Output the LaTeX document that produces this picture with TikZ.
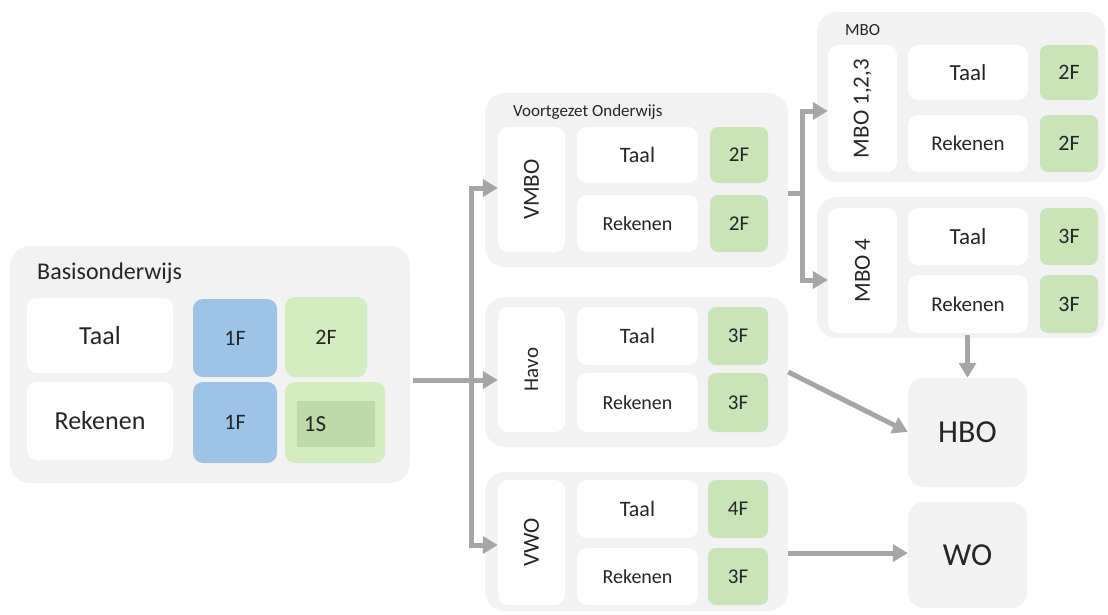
\documentclass[tikz,border=0pt]{standalone}
\usepackage{fontspec}
\setmainfont{Carlito}
\usetikzlibrary{arrows.meta}
\definecolor{bggrey}{HTML}{F2F2F2}
\definecolor{lblue}{HTML}{9DC3E6}
\definecolor{lgreen}{HTML}{D3ECC0}
\definecolor{vgreen}{HTML}{C9E4B6}
\definecolor{dgreen}{HTML}{BDDAAB}
\definecolor{arrgrey}{HTML}{A6A6A6}
\definecolor{txt}{HTML}{262626}
\newcommand{\fs}[1]{\fontsize{#1}{#1}\selectfont}
\tikzset{
  outerbox/.style={fill=bggrey, rounded corners=20pt, inner sep=0pt},
  whitebox/.style={fill=white, rounded corners=10pt, inner sep=0pt, text=txt},
  bluebox/.style={fill=lblue, rounded corners=10pt, inner sep=0pt, text=txt},
  greenbox/.style={fill=lgreen, rounded corners=10pt, inner sep=0pt, text=txt},
  vbox/.style={fill=vgreen, rounded corners=8pt, inner sep=0pt, text=txt},
  endbox/.style={fill=bggrey, rounded corners=16pt, inner sep=0pt, text=txt},
  arr/.style={draw=arrgrey, line width=5pt, -{Triangle[length=15pt,width=17pt]}},
  ln/.style={draw=arrgrey, line width=5pt},
}
\begin{document}
\begin{tikzpicture}[x=1pt,y=-1pt]
\useasboundingbox (0,0) rectangle (1108,614);
% ---------- Basisonderwijs ----------
\node[outerbox, minimum width=400pt, minimum height=237pt] (basis) at (210,364.5) {};
\node[anchor=west, text=txt, inner sep=0pt] (btitle) at (37,273) {\fs{24}Basisonderwijs};
\node[whitebox, minimum width=146pt, minimum height=75pt] (bt) at (100,335.5) {\fs{26}Taal};
\node[whitebox, minimum width=146pt, minimum height=78pt] (br) at (100,421) {\fs{26}Rekenen};
\node[bluebox, minimum width=84pt, minimum height=78pt] (b1) at (235,338) {\fs{22}1F};
\node[bluebox, minimum width=84pt, minimum height=81pt] (b2) at (235,422.5) {\fs{22}1F};
\node[greenbox, minimum width=82pt, minimum height=80pt] (b3) at (326,337) {\fs{22}2F};
\node[greenbox, minimum width=100pt, minimum height=81pt] (b4) at (335,422.5) {};
\node[fill=dgreen, minimum width=78pt, minimum height=46pt, inner sep=0pt] (b4in) at (336,424) {};
\node[text=txt, inner sep=0pt] (b4t) at (315,424) {\fs{23}1S};
% ---------- Voortgezet Onderwijs: VMBO ----------
\node[outerbox, minimum width=303pt, minimum height=174pt] (vo) at (636.5,180) {};
\node[anchor=west, text=txt, inner sep=0pt] (votitle) at (513,112) {\fs{17}Voortgezet Onderwijs};
\node[whitebox, minimum width=67pt, minimum height=125pt] (vl) at (531.5,189.5) {};
\node[text=txt, rotate=90] at (vl.center) {\fs{23}VMBO};
\node[whitebox, minimum width=121pt, minimum height=56pt] (vt) at (637.5,155) {\fs{22}Taal};
\node[whitebox, minimum width=121pt, minimum height=57pt] (vr) at (637.5,223.5) {\fs{20}Rekenen};
\node[vbox, minimum width=58pt, minimum height=56pt] (vg1) at (739,155) {\fs{21}2F};
\node[vbox, minimum width=58pt, minimum height=57pt] (vg2) at (739,223.5) {\fs{21}2F};
% ---------- Havo ----------
\node[outerbox, minimum width=303pt, minimum height=150pt] (ho) at (636.5,372) {};
\node[whitebox, minimum width=67pt, minimum height=125pt] (hl) at (531.5,369.5) {};
\node[text=txt, rotate=90] at (hl.center) {\fs{21}Havo};
\node[whitebox, minimum width=121pt, minimum height=58pt] (ht) at (637.5,336) {\fs{22}Taal};
\node[whitebox, minimum width=121pt, minimum height=59pt] (hr) at (637.5,402.5) {\fs{20}Rekenen};
\node[vbox, minimum width=60pt, minimum height=58pt] (hg1) at (738,336) {\fs{21}3F};
\node[vbox, minimum width=60pt, minimum height=59pt] (hg2) at (738,402.5) {\fs{21}3F};
% ---------- VWO ----------
\node[outerbox, minimum width=303pt, minimum height=139pt] (wo) at (636.5,541.5) {};
\node[whitebox, minimum width=67pt, minimum height=125pt] (wl) at (531.5,542.5) {};
\node[text=txt, rotate=90] at (wl.center) {\fs{23}VWO};
\node[whitebox, minimum width=121pt, minimum height=58pt] (wt) at (637.5,509) {\fs{22}Taal};
\node[whitebox, minimum width=121pt, minimum height=57pt] (wr) at (637.5,576.5) {\fs{20}Rekenen};
\node[vbox, minimum width=60pt, minimum height=58pt] (wg1) at (738,509) {\fs{21}4F};
\node[vbox, minimum width=60pt, minimum height=57pt] (wg2) at (738,576.5) {\fs{21}3F};
% ---------- MBO 1,2,3 ----------
\node[outerbox, minimum width=288pt, minimum height=170pt] (mbo1) at (961,97) {};
\node[anchor=west, text=txt, inner sep=0pt] (mbotitle) at (845,30) {\fs{17}MBO};
\node[whitebox, minimum width=69pt, minimum height=127pt] (m1l) at (862.5,108.5) {};
\node[text=txt, rotate=90] at (m1l.center) {\fs{23}MBO 1,2,3};
\node[whitebox, minimum width=120pt, minimum height=55pt] (m1t) at (968,72.5) {\fs{23}Taal};
\node[whitebox, minimum width=120pt, minimum height=57pt] (m1r) at (968,143.5) {\fs{21}Rekenen};
\node[vbox, minimum width=58pt, minimum height=55pt] (m1g1) at (1069,72.5) {\fs{22}2F};
\node[vbox, minimum width=58pt, minimum height=57pt] (m1g2) at (1069,143.5) {\fs{22}2F};
% ---------- MBO 4 ----------
\node[outerbox, minimum width=288pt, minimum height=141pt] (mbo4) at (961,267.5) {};
\node[whitebox, minimum width=69pt, minimum height=125pt] (m4l) at (862.5,270.5) {};
\node[text=txt, rotate=90] at (m4l.center) {\fs{23}MBO 4};
\node[whitebox, minimum width=120pt, minimum height=57pt] (m4t) at (968,236.5) {\fs{23}Taal};
\node[whitebox, minimum width=120pt, minimum height=58pt] (m4r) at (968,304) {\fs{21}Rekenen};
\node[vbox, minimum width=58pt, minimum height=57pt] (m4g1) at (1069,236.5) {\fs{22}3F};
\node[vbox, minimum width=58pt, minimum height=58pt] (m4g2) at (1069,304) {\fs{22}3F};
% ---------- HBO / WO ----------
\node[endbox, minimum width=119pt, minimum height=109pt] (hbo) at (967.5,432.5) {\fs{32}HBO};
\node[endbox, minimum width=119pt, minimum height=106pt] (wob) at (967.5,555) {\fs{32}WO};
% ---------- connectors ----------
\coordinate (j) at (471,380);
\coordinate (jt) at (471,188);
\coordinate (jb) at (471,545);
\draw[arr] ([xshift=3pt]basis.east |- j) -- (hl.west |- j);
\draw[arr] (j) |- (vl.west |- jt);
\draw[arr] (j) |- (wl.west |- jb);
\coordinate (k) at (802,193);
\coordinate (kt) at (802,111);
\coordinate (kb) at (802,280);
\draw[ln] (vo.east |- k) -- (k);
\draw[arr] (k) |- (m1l.west |- kt);
\draw[arr] (k) |- (m4l.west |- kb);
\draw[arr] ([yshift=3pt]mbo4.south -| hbo.north) -- (hbo.north);
\draw[arr] (ho.east |- 0,372) -- (hbo.west |- 0,432);
\draw[arr] (wo.east |- 0,553) -- (wob.west |- 0,553);
\end{tikzpicture}
\end{document}
